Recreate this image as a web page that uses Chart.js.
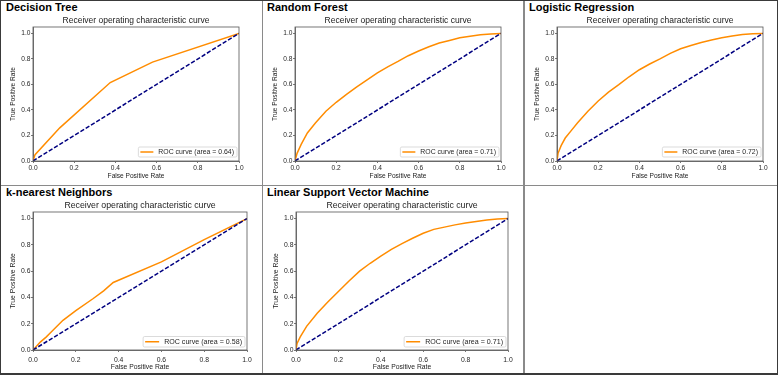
<!DOCTYPE html>
<html>
<head>
<meta charset="utf-8">
<script src="https://cdn.jsdelivr.net/npm/chart.js@4.4.1/dist/chart.umd.min.js"></script>
<style>
  html, body { margin: 0; padding: 0; background: #fff; overflow: hidden; }
  #page { position: relative; width: 778px; height: 375px; background: #fff; }
  .cell-title { position: absolute; font: bold 11px "Liberation Sans", Arial, sans-serif; line-height: 14px; color: #000; white-space: nowrap; }
  .rule { position: absolute; background: #8a8a8a; }
  .outer { position: absolute; background: #3a3a3a; }
  canvas { position: absolute; }
</style>
</head>
<body>
<div id="page"></div>
<script>
// ---------------- data ----------------
const models = ['Decision Tree', 'Random Forest', 'Logistic Regression', 'k-nearest Neighbors', 'Linear Support Vector Machine'];
const aucValues = [0.64, 0.71, 0.72, 0.58, 0.71];
const chartTitle = 'Receiver operating characteristic curve';
const xAxisTitle = 'False Positive Rate';
const yAxisTitle = 'True Positive Rate';
const tickValues = [0.0, 0.2, 0.4, 0.6, 0.8, 1.0];
const tickLabels = ['0.0', '0.2', '0.4', '0.6', '0.8', '1.0'];
const chanceFpr = [0, 1];
const chanceTpr = [0, 1];

const dtFpr = [0, 0.01, 0.13, 0.375, 0.58, 1];
const dtTpr = [0, 0.05, 0.26, 0.615, 0.775, 1];

const rfFpr = [0, 0.01, 0.03, 0.06, 0.10, 0.15, 0.20, 0.25, 0.30, 0.35, 0.40, 0.45, 0.50, 0.55, 0.60, 0.65, 0.70, 0.75, 0.80, 0.85, 0.90, 0.95, 1];
const rfTpr = [0, 0.06, 0.13, 0.22, 0.30, 0.39, 0.46, 0.522, 0.58, 0.635, 0.69, 0.738, 0.78, 0.825, 0.862, 0.895, 0.924, 0.945, 0.965, 0.978, 0.99, 0.995, 1];

const lrFpr = [0, 0.005, 0.02, 0.04, 0.07, 0.10, 0.15, 0.20, 0.25, 0.30, 0.35, 0.40, 0.45, 0.50, 0.55, 0.60, 0.65, 0.70, 0.75, 0.80, 0.85, 0.90, 0.95, 1];
const lrTpr = [0, 0.06, 0.12, 0.18, 0.24, 0.30, 0.39, 0.47, 0.54, 0.598, 0.66, 0.715, 0.76, 0.80, 0.843, 0.88, 0.905, 0.928, 0.948, 0.966, 0.98, 0.992, 0.997, 1];

const knnFpr = [0, 0.034, 0.0625, 0.078, 0.14, 0.20, 0.28, 0.33, 0.375, 0.60, 0.80, 1];
const knnTpr = [0, 0.06, 0.10, 0.125, 0.226, 0.30, 0.39, 0.45, 0.514, 0.67, 0.84, 1];

const svmFpr = [0, 0.005, 0.02, 0.05, 0.10, 0.15, 0.20, 0.25, 0.30, 0.35, 0.40, 0.45, 0.50, 0.55, 0.60, 0.65, 0.70, 0.75, 0.80, 0.85, 0.90, 0.95, 1];
const svmTpr = [0, 0.05, 0.10, 0.18, 0.28, 0.365, 0.445, 0.525, 0.60, 0.66, 0.715, 0.765, 0.81, 0.85, 0.888, 0.918, 0.935, 0.952, 0.966, 0.978, 0.99, 0.997, 1];

const curves = [[dtFpr, dtTpr], [rfFpr, rfTpr], [lrFpr, lrTpr], [knnFpr, knnTpr], [svmFpr, svmTpr]];

// ---------------- layout (positions / styles) ----------------
const layouts = [
  { head: [6, 0],    canvas: [9, 0, 242, 180],   yW: 24, xH: 19, padR: 12, row: 0 },
  { head: [267, 0],  canvas: [271, 0, 242, 180], yW: 24, xH: 19, padR: 12, row: 0 },
  { head: [529, 0],  canvas: [533, 0, 242, 180], yW: 24, xH: 19, padR: 12, row: 0 },
  { head: [6, 185],  canvas: [9, 185, 250, 186], yW: 24, xH: 21, padR: 12, row: 1 },
  { head: [267, 185],canvas: [272, 185, 248, 186], yW: 24, xH: 21, padR: 12, row: 1 }
];
const rowStyle = [
  { titleSize: 8.5,  axisSize: 6.6, tickSize: 6.6, legendSize: 6.9, tickPad: 0.5, xTickPad: 1, titlePadTop: 15.6, titlePadBottom: 1.2, legLine: 13, legH: 10, legInsetR: 2, legInsetB: 4 },
  { titleSize: 8.75, axisSize: 6.8, tickSize: 6.8, legendSize: 7.1, tickPad: 0.5, xTickPad: 4, titlePadTop: 15.45, titlePadBottom: 1.05, legLine: 14, legH: 10.5, legInsetR: 2, legInsetB: 3 }
];

Chart.defaults.font.family = '"Liberation Sans", Arial, sans-serif';
Chart.defaults.color = '#262626';

const page = document.getElementById('page');

function addBox(cls, l, t, w, h) {
  const d = document.createElement('div');
  d.className = cls;
  Object.assign(d.style, { left: l + 'px', top: t + 'px', width: w + 'px', height: h + 'px' });
  page.appendChild(d);
}
// grid rules and outer frame
addBox('rule', 262, 0, 1, 375);
addBox('rule', 523, 0, 1.5, 375);
addBox('rule', 0, 185, 778, 1);
addBox('outer', 0, 0, 778, 1);
addBox('outer', 0, 0, 1, 375);
addBox('outer', 777, 0, 1, 375);
addBox('outer', 0, 373, 778, 2);

const framePlugin = {
  id: 'axesFrame',
  afterDatasetsDraw(chart) {
    const a = chart.chartArea, ctx = chart.ctx;
    ctx.save();
    ctx.strokeStyle = '#555';
    ctx.lineWidth = 0.8;
    ctx.strokeRect(a.left, a.top, a.right - a.left, a.bottom - a.top);
    ctx.restore();
  }
};

const legendPlugin = {
  id: 'legendInside',
  afterDraw(chart, args, opts) {
    const ds = chart.data.datasets.find(d => d.inLegend);
    if (!ds) return;
    const a = chart.chartArea, ctx = chart.ctx;
    ctx.save();
    ctx.font = opts.fontSize + 'px "Liberation Sans", Arial, sans-serif';
    const tw = ctx.measureText(ds.label).width;
    const padL = 2, gap = 5, padR = 3;
    const w = padL + opts.lineLen + gap + tw + padR;
    const h = opts.height;
    const x = a.right - opts.insetR - w;
    const y = a.bottom - opts.insetB - h;
    ctx.beginPath();
    ctx.roundRect(x, y, w, h, 1.5);
    ctx.fillStyle = 'rgba(255,255,255,0.85)';
    ctx.fill();
    ctx.strokeStyle = '#d2d2d2';
    ctx.lineWidth = 0.8;
    ctx.stroke();
    ctx.beginPath();
    ctx.strokeStyle = ds.borderColor;
    ctx.lineWidth = ds.borderWidth;
    ctx.moveTo(x + padL, y + h / 2);
    ctx.lineTo(x + padL + opts.lineLen, y + h / 2);
    ctx.stroke();
    ctx.fillStyle = '#262626';
    ctx.textBaseline = 'middle';
    ctx.fillText(ds.label, x + padL + opts.lineLen + gap, y + h / 2 + 0.5);
    ctx.restore();
  }
};

function toPoints(xs, ys) { return xs.map((v, i) => ({ x: v, y: ys[i] })); }

models.forEach((name, i) => {
  const L = layouts[i];
  const S = rowStyle[L.row];
  const head = document.createElement('div');
  head.className = 'cell-title';
  head.style.left = L.head[0] + 'px';
  head.style.top = L.head[1] + 'px';
  head.textContent = name;
  page.appendChild(head);

  const cv = document.createElement('canvas');
  const [cx, cy, cw, ch] = L.canvas;
  cv.width = cw; cv.height = ch;
  Object.assign(cv.style, { left: cx + 'px', top: cy + 'px', width: cw + 'px', height: ch + 'px' });
  page.appendChild(cv);

  const [fpr, tpr] = curves[i];
  new Chart(cv, {
    type: 'scatter',
    data: {
      datasets: [
        {
          label: 'ROC curve (area = ' + aucValues[i].toFixed(2) + ')',
          data: toPoints(fpr, tpr),
          showLine: true, borderColor: '#ff8c00', backgroundColor: '#ff8c00',
          borderWidth: 1.5, pointRadius: 0, tension: 0, order: 1, inLegend: true
        },
        {
          label: 'chance',
          data: toPoints(chanceFpr, chanceTpr),
          showLine: true, borderColor: '#000080', backgroundColor: '#000080',
          borderWidth: 1.5, borderDash: [4.3, 1.9], pointRadius: 0, order: 0
        }
      ]
    },
    options: {
      responsive: false, animation: false, devicePixelRatio: 1,
      layout: { padding: { left: 0, right: L.padR, top: 0, bottom: 0 } },
      plugins: {
        legend: { display: false },
        tooltip: { enabled: false },
        title: {
          display: true, text: chartTitle, fullSize: false, color: '#222',
          font: { size: S.titleSize, weight: 'normal', lineHeight: 1.2 },
          padding: { top: S.titlePadTop, bottom: S.titlePadBottom }
        },
        legendInside: { fontSize: S.legendSize, lineLen: S.legLine, height: S.legH, insetR: S.legInsetR, insetB: S.legInsetB }
      },
      scales: {
        x: {
          type: 'linear', min: 0, max: 1,
          afterBuildTicks: s => { s.ticks = tickValues.map(v => ({ value: v })); },
          afterFit: s => { s.height = L.xH; },
          ticks: { callback: (v, idx) => tickLabels[idx], font: { size: S.tickSize }, color: '#262626', padding: S.xTickPad, maxRotation: 0, autoSkip: false },
          grid: { display: true, drawOnChartArea: false, drawTicks: true, tickLength: 2, color: '#555', lineWidth: 0.8 },
          border: { display: true, color: '#555', width: 0.8 },
          title: { display: true, text: xAxisTitle, font: { size: S.axisSize, lineHeight: 1.2 }, color: '#222', padding: 0 }
        },
        y: {
          type: 'linear', min: 0, max: 1.05,
          afterBuildTicks: s => { s.ticks = tickValues.map(v => ({ value: v })); },
          afterFit: s => { s.width = L.yW; },
          ticks: { callback: (v, idx) => tickLabels[idx], font: { size: S.tickSize }, color: '#262626', padding: S.tickPad, autoSkip: false },
          grid: { display: true, drawOnChartArea: false, drawTicks: true, tickLength: 2, color: '#555', lineWidth: 0.8 },
          border: { display: true, color: '#555', width: 0.8 },
          title: { display: true, text: yAxisTitle, font: { size: S.axisSize, lineHeight: 1.2 }, color: '#222', padding: 0 }
        }
      }
    },
    plugins: [framePlugin, legendPlugin]
  });
});
</script>
</body>
</html>
